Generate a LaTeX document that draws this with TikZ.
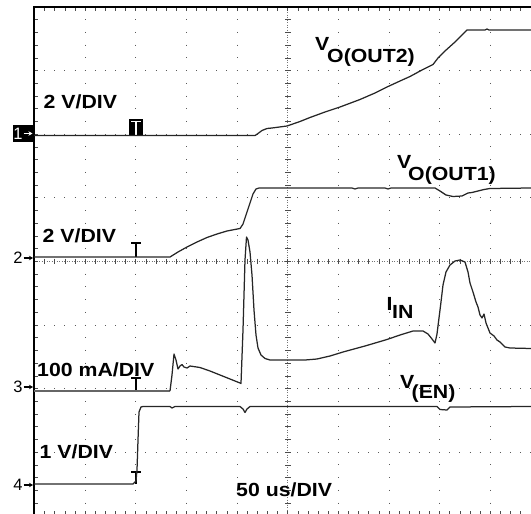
\documentclass[tikz,border=0pt]{standalone}
\usepackage{fontspec}
\setmainfont{Liberation Sans}
\usetikzlibrary{arrows.meta}
\begin{document}
\begin{tikzpicture}[x=1pt,y=-1pt,
  trace/.style={line width=1.25pt, black!85, line join=round},
  lbl/.style={inner sep=0pt, anchor=base west, font=\bfseries\fontsize{19}{20}\selectfont},
  mk/.style={inner sep=0pt, anchor=base east, font=\fontsize{16.5}{17}\selectfont},
  gdot/.style={black!65, line width=1pt},
  tick/.style={black!70, line width=0.7pt},
  trig/.style={line width=1.2pt, black},
  marr/.style={line width=1.1pt, -{Stealth[length=4pt,width=4.5pt]}}]
\useasboundingbox (0,0) rectangle (531,514);
\begin{scope}
\clip (0,0) rectangle (531,514);
% dotted major grid lines
\foreach \i in {1,2,3,4,6,7,8,9}
  \draw[gdot, dash pattern=on 1pt off 11.72pt, dash phase=0.5pt] ({34.5+\i*50.65},7) -- ({34.5+\i*50.65},530);
\foreach \j in {1,2,3,5,6,7}
  \draw[gdot, dash pattern=on 1pt off 9.13pt, dash phase=0.5pt] (34.5,{7+\j*63.6}) -- (545,{7+\j*63.6});
% centre axes
\draw[black!55, line width=0.8pt, dash pattern=on 1pt off 1.5pt] (287.75,7) -- (287.75,530);
\draw[black!55, line width=0.8pt, dash pattern=on 1pt off 1.5pt] (34,261.4) -- (545,261.4);
\foreach \k in {1,...,40}
  \draw[tick] (285,{7+\k*12.72}) -- (290.5,{7+\k*12.72});
\foreach \k in {1,...,50}
  \draw[tick] ({34.5+\k*10.13},258.6) -- ({34.5+\k*10.13},264.2);
% border and border ticks
\foreach \k in {1,...,39}
  \draw[tick] (34,{7+\k*12.72}) -- (37.5,{7+\k*12.72});
\foreach \k in {1,...,50} {
  \draw[tick] ({34.5+\k*10.13},7) -- ({34.5+\k*10.13},10.5);
  \draw[tick] ({34.5+\k*10.13},511) -- ({34.5+\k*10.13},516);
}
\draw[line width=1.8pt, black] (34,7) rectangle (541,516);
\end{scope}

% channel markers
\fill[black] (12.5,125) rectangle (33,141.5);
\node[mk, text=white] (m1) at (22.8,139.5) {1};
\draw[marr, white] (23.5,133.5) -- (32.5,133.5);
\node[mk] (m2) at (22.8,263.8) {2};
\draw[marr] (23.5,258) -- (33,258);
\node[mk] (m3) at (22.8,392.5) {3};
\draw[marr] (23.5,387) -- (33,387);
\node[mk] (m4) at (22.8,490.5) {4};
\draw[marr] (23.5,485) -- (33,485);

% trigger markers
\fill[black] (129,119) rectangle (143,135.5);
\draw[white, line width=1.3pt] (131.2,121.8) -- (140.8,121.8) (136,121.8) -- (136,135.5);
\draw[trig] (131,243) -- (141,243) (136,243) -- (136,257);
\draw[trig] (131,378) -- (141,378) (136,378) -- (136,391);
\draw[trig] (131,472) -- (141,472) (136,472) -- (136,484);

% channel 1: V_O(OUT2)
\draw[trace] (34,135.5) -- (255,135.5) -- (258,133.5) -- (262,130.5) -- (267,128.5) -- (272,128) -- (287,126) -- (300,121.5) -- (310,117.5) -- (325,112) -- (340,107) -- (360,99.5) -- (375,93) -- (387,87) -- (400,81) -- (410,76.5) -- (422,70) -- (433,64.5) -- (438,58) -- (445,51) -- (455,42) -- (462,35) -- (467,30) -- (485,30) -- (487,29) -- (489,30) -- (531,30);
% channel 2: V_O(OUT1)
\draw[trace] (34,257) -- (170,257) -- (178,252) -- (187,247) -- (197,242) -- (207,237.5) -- (217,234) -- (227,231) -- (240,228.5) -- (243,224) -- (246,215) -- (250,203) -- (253,194) -- (256,189) -- (259,188) -- (352,188) -- (355,189) -- (358,188) -- (385,188) -- (388,189) -- (391,188) -- (435,188) -- (440,191) -- (446,195) -- (453,196.5) -- (462,196) -- (468,193) -- (472,192.5) -- (478,191) -- (484,189.5) -- (490,188.5) -- (531,188);
% channel 3: I_IN
\draw[trace, black!60] (34,391) -- (170,391);
\draw[trace] (170,391) -- (172,375) -- (174,354) -- (176,360) -- (178,369) -- (180,366) -- (182,364.5) -- (184,367) -- (187,368) -- (190,366) -- (200,367.5) -- (210,371) -- (220,375) -- (230,379) -- (240,383) -- (241,383.5) -- (243,330) -- (245,260) -- (246.5,237) -- (248,240) -- (250,252) -- (252,275) -- (254,310) -- (256,335) -- (258,348) -- (261,355) -- (265,358.5) -- (270,360) -- (287,360) -- (305,360) -- (317,359) -- (330,356) -- (343,352) -- (365,346) -- (387,339.5) -- (400,335) -- (413,331) -- (423,331) -- (428,334) -- (432,339) -- (435,343) -- (437,334) -- (439,318) -- (441,302) -- (443,285) -- (446,272) -- (450,265) -- (455,261) -- (460,260) -- (465,262) -- (468,272) -- (470,283) -- (473,292) -- (476,302) -- (478,307) -- (480,315) -- (482,318) -- (484,314) -- (486,323) -- (488,328) -- (490,333) -- (494,336) -- (497,340) -- (500,342) -- (505,347) -- (510,348) -- (531,348.5);
% channel 4: V_(EN)
\draw[trace] (34,484) -- (133,484) -- (136,481) -- (137,470) -- (138,440) -- (139,412) -- (141,407) -- (143,406.5) -- (170,406.5) -- (172,408) -- (175,406.5) -- (240,406.5) -- (243,409) -- (245,412.5) -- (247,409) -- (250,406.5) -- (437,406.5) -- (440,409.5) -- (447,410) -- (450,407) -- (531,406.5);

% scale labels
\node[lbl] (s1) at (43.5,108) {\scalebox{1.12}[1]{2 V/DIV}};
\node[lbl] (s2) at (42.5,242.5) {\scalebox{1.12}[1]{2 V/DIV}};
\node[lbl] (s3) at (37,376) {\scalebox{1.12}[1]{100 mA/DIV}};
\node[lbl] (s4) at (39.5,458) {\scalebox{1.12}[1]{1 V/DIV}};
\node[lbl] (tb) at (236,496) {\scalebox{1.12}[1]{50 us/DIV}};

% signal labels
\node[lbl] (v2) at (315,50) {\scalebox{1.12}[1]{V}};
\node[lbl] (v2s) at (327,62) {\scalebox{1.12}[1]{O(OUT2)}};
\node[lbl] (v1) at (397,168) {\scalebox{1.12}[1]{V}};
\node[lbl] (v1s) at (408,180) {\scalebox{1.12}[1]{O(OUT1)}};
\node[lbl] (ii) at (386.5,310) {\scalebox{1.12}[1]{I}};
\node[lbl] (iis) at (392,318) {\scalebox{1.12}[1]{IN}};
\node[lbl] (ve) at (400,388) {\scalebox{1.12}[1]{V}};
\node[lbl] (ves) at (411.5,398) {\scalebox{1.12}[1]{(EN)}};
\end{tikzpicture}
\end{document}
